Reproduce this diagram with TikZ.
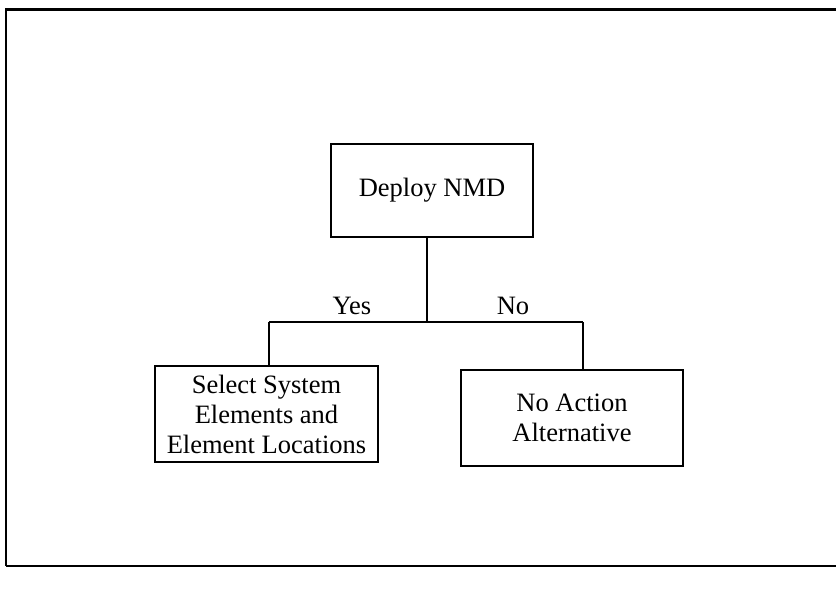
\documentclass[tikz,border=0pt]{standalone}
\usepackage{fontspec}
\setmainfont{Liberation Serif}
\begin{document}
\begin{tikzpicture}[x=1pt,y=-1pt,
  boxnode/.style={draw=black, line width=2pt, inner sep=0pt, align=center,
    font=\fontsize{26.5}{30}\selectfont},
  lbl/.style={font=\fontsize{26.5}{30}\selectfont, inner sep=0pt},
  conn/.style={line width=1.8pt}]
\useasboundingbox (0,0) rectangle (836,590);
\fill[white] (0,0) rectangle (836,590);
% frame
\draw[line width=3pt] (6,9) -- (836,9);
\draw[line width=1.5pt] (6,8) -- (6,566);
\draw[line width=2pt] (6,566) -- (836,566);
% boxes
\node[boxnode, minimum width=202pt, minimum height=93pt] (top) at (432,190) {\strut Deploy NMD};
\node[boxnode, minimum width=223pt, minimum height=96pt] (left) at (266.5,414) {Select System\\Elements and\\Element Locations};
\node[boxnode, minimum width=222pt, minimum height=96pt] (right) at (572,418) {No Action\\Alternative};
% connectors
\coordinate (j) at (427,322);
\coordinate (jl) at (269,322);
\coordinate (jr) at (583,322);
\draw[conn] (top.south -| j) -- (j);
\draw[conn] (jl) -- (jr);
\draw[conn] (jl) -- (left.north -| jl);
\draw[conn] (jr) -- (right.north -| jr);
% labels
\node[lbl] (yes) at (352,306) {Yes};
\node[lbl] (no) at (513,306) {No};
\end{tikzpicture}
\end{document}
